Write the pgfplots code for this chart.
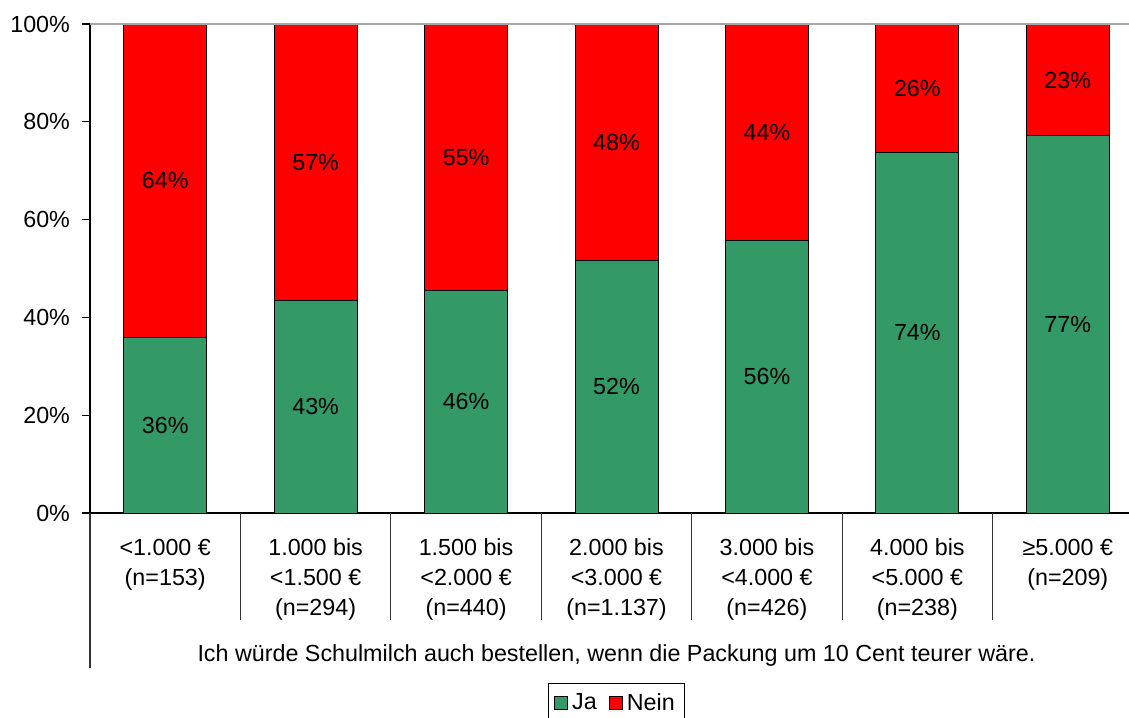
\documentclass[border=0pt]{standalone}
\usepackage{pgfplots}
\usepackage{pgfplotstable}
\pgfplotsset{compat=1.18}
\usepackage{fontspec}
\setmainfont{Liberation Sans}
\definecolor{jagreen}{RGB}{51,153,102}
\definecolor{neinred}{RGB}{255,0,0}
\pgfplotstableread{
x ja nein jamid neinmid jal neinl
0.5 35.9 100 17.95 67.95 36 64
1.5 43.4 100 21.70 71.70 43 57
2.5 45.5 100 22.75 72.75 46 55
3.5 51.7 100 25.85 75.85 52 48
4.5 55.8 100 27.90 77.90 56 44
5.5 73.8 100 36.90 86.90 74 26
6.5 77.1 100 38.55 88.55 77 23
}\data
\begin{document}
\begin{tikzpicture}[font=\fontsize{11.65}{14.9}\selectfont]
\path[use as bounding box] (-45pt,-102pt) rectangle (519.5pt,256.5pt);
\clip (-45pt,-102pt) rectangle (519.5pt,256.5pt);
\begin{axis}[
  at={(0,0)}, anchor=south west,
  scale only axis, width=526.5pt, height=244.5pt,
  xmin=0, xmax=7, ymin=0, ymax=100,
  axis x line*=bottom, axis y line*=left,
  axis line style={black, line width=0.6pt},
  clip=false,
  /pgf/number format/assume math mode=true,
  xtick={0.5,1.5,2.5,3.5,4.5,5.5,6.5},
  xticklabels={{<1.000 €\\(n=153)},{1.000 bis\\<1.500 €\\(n=294)},{1.500 bis\\<2.000 €\\(n=440)},{2.000 bis\\<3.000 €\\(n=1.137)},{3.000 bis\\<4.000 €\\(n=426)},{4.000 bis\\<5.000 €\\(n=238)},{≥5.000 €\\(n=209)}},
  x tick label style={align=center, anchor=north, yshift=-5.5pt},
  major x tick style={draw=none},
  ytick={0,20,40,60,80,100},
  yticklabels={0\%,20\%,40\%,60\%,80\%,100\%},
  y tick label style={xshift=-2.5pt},
  tick align=outside, major tick length=4pt,
  y tick style={black, line width=0.6pt},
  legend style={at={(0.5,-0.3476)}, anchor=north, draw=black, legend columns=2, inner xsep=3pt, inner ysep=3pt,
    /tikz/every even column/.append style={column sep=4pt}},
  legend cell align=left,
  every node near coord/.append style={anchor=center},
]
\addplot[ybar, bar width=41.5pt, bar shift=0pt, fill=neinred, draw=black, line width=0.5pt, forget plot] table[x=x,y=nein]{\data};
\addplot[ybar, bar width=41.5pt, bar shift=0pt, fill=jagreen, draw=black, line width=0.5pt, forget plot] table[x=x,y=ja]{\data};
\addplot[only marks, mark=none, nodes near coords={\pgfmathprintnumber{\pgfplotspointmeta}\%}, point meta=explicit, forget plot] table[x=x,y=jamid,meta=jal]{\data};
\addplot[only marks, mark=none, nodes near coords={\pgfmathprintnumber{\pgfplotspointmeta}\%}, point meta=explicit, forget plot] table[x=x,y=neinmid,meta=neinl]{\data};
\draw[gray!70, line width=0.6pt] (axis cs:0,100) -- (axis cs:7,100);
\pgfplotsinvokeforeach{1,...,7}{\draw[black!80, line width=0.6pt] (axis cs:#1,0) -- ++(0,-53.5pt);}
\draw[black!80, line width=0.6pt] (axis cs:0,0) -- ++(0,-77.5pt);
\node at (axis cs:3.5,0) [yshift=-71pt] {Ich würde Schulmilch auch bestellen, wenn die Packung um 10 Cent teurer wäre.};
\addlegendimage{legend image code/.code={\draw[fill=jagreen, draw=black, line width=0.5pt] (0pt,-3.25pt) rectangle (6.5pt,3.25pt);}}
\addlegendentry{Ja}
\addlegendimage{legend image code/.code={\draw[fill=neinred, draw=black, line width=0.5pt] (0pt,-3.25pt) rectangle (6.5pt,3.25pt);}}
\addlegendentry{Nein}
\end{axis}
\end{tikzpicture}
\end{document}
